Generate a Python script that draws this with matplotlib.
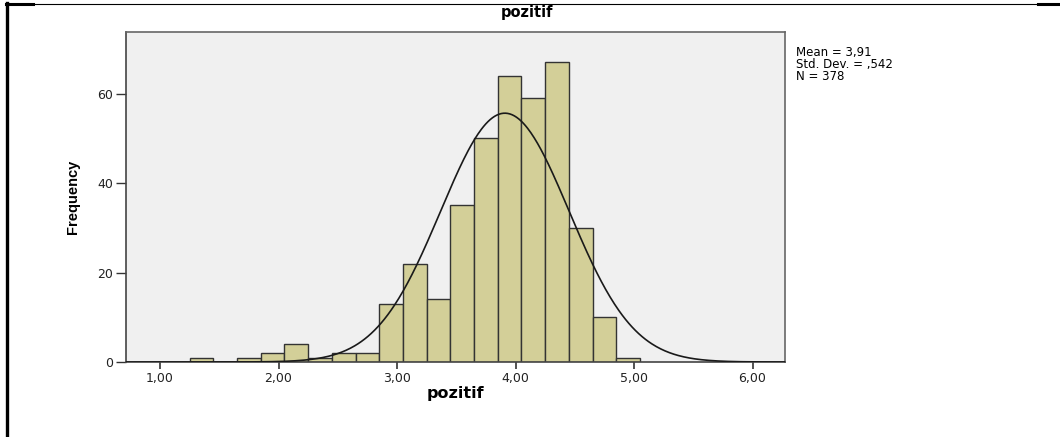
import numpy as np
import matplotlib
matplotlib.use("Agg")
import matplotlib.pyplot as plt
from matplotlib.lines import Line2D

# Data
bin_start = 1.25
bin_width = 0.2
counts = [1, 0, 1, 2, 4, 1, 2, 2, 13, 22, 14, 35, 50, 64, 59, 67, 30, 10, 1]
mean_val = 3.91
std_val = 0.542
n_val = 378
xticks = [1, 2, 3, 4, 5, 6]
xtick_labels = ["1,00", "2,00", "3,00", "4,00", "5,00", "6,00"]
yticks = [0, 20, 40, 60]
stats_text = "Mean = 3,91\nStd. Dev. = ,542\nN = 378"

W, H = 1060, 437
fig = plt.figure(figsize=(W / 100, H / 100), dpi=100)
fig.patch.set_facecolor("white")

def fx(px):
    return px / W

def fy(py):
    return 1 - py / H

ax = fig.add_axes([fx(126), fy(362), fx(785) - fx(126), fy(32) - fy(362)])
ax.set_facecolor("#F0F0F0")

edges = bin_start + bin_width * np.arange(len(counts) + 1)
lefts = edges[:-1]
ax.bar(lefts, counts, width=bin_width, align="edge", color="#D3CF98",
       edgecolor="#333333", linewidth=1.0, zorder=2)

xlo, xhi = 0.713, 6.274
xs = np.linspace(xlo, xhi, 600)
ys = n_val * bin_width / (std_val * np.sqrt(2 * np.pi)) * np.exp(-0.5 * ((xs - mean_val) / std_val) ** 2)
ax.plot(xs, ys, color="#1A1A1A", linewidth=1.2, zorder=3)

ax.set_xlim(xlo, xhi)
ax.set_ylim(0, 73.8)
ax.set_xticks(xticks)
ax.set_xticklabels(xtick_labels, fontsize=9, family="DejaVu Sans", color="#222222")
ax.set_yticks(yticks)
ax.set_yticklabels([str(v) for v in yticks], fontsize=9, family="DejaVu Sans", color="#222222")
ax.tick_params(axis="x", length=5, width=1.2, color="#333333", pad=2)
ax.tick_params(axis="y", length=7, width=1.0, color="#333333", pad=2)

for s in ax.spines.values():
    s.set_color("#666666")
    s.set_linewidth(1.2)
ax.spines["left"].set_color("#444444")
ax.spines["bottom"].set_color("#444444")

ax.set_xlabel("pozitif", fontsize=11.5, fontweight="bold", family="DejaVu Sans", labelpad=1)
ax.set_ylabel("Frequency", fontsize=10.5, fontweight="bold", family="Liberation Sans")
ax.yaxis.set_label_coords((80 - 126) / 659, 0.5)

fig.text(fx(527), fy(13), "pozitif", ha="center", va="center", fontsize=10.5,
         fontweight="bold", family="DejaVu Sans")
fig.text(fx(796), fy(46), stats_text, ha="left", va="top", fontsize=8.5,
         family="DejaVu Sans", linespacing=0.88)

# outer frame
fig.add_artist(Line2D([fx(7), fx(7)], [fy(3), fy(437)], color="black", linewidth=2.4))
fig.add_artist(Line2D([fx(6), fx(33)], [fy(4), fy(4)], color="black", linewidth=2.2))
fig.add_artist(Line2D([fx(33), fx(1038)], [fy(3.5), fy(3.5)], color="black", linewidth=0.8))
fig.add_artist(Line2D([fx(1038), fx(1060)], [fy(4), fy(4)], color="black", linewidth=2.2))

fig.savefig("out.png", dpi=100)
